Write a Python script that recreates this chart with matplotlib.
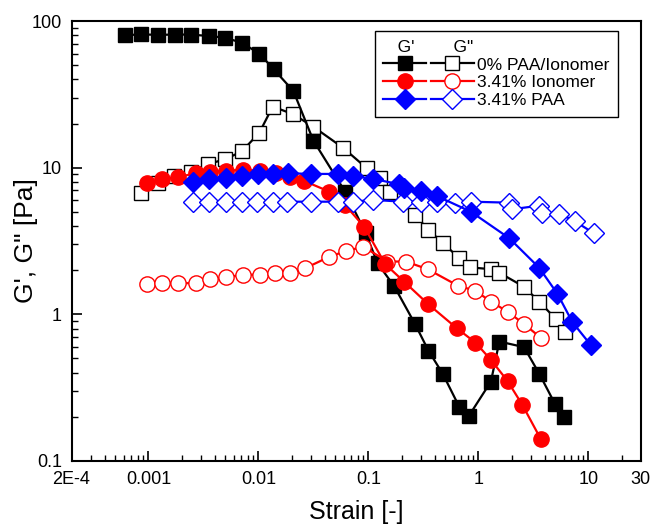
import matplotlib
matplotlib.use("Agg")
import matplotlib.pyplot as plt
from matplotlib.legend_handler import HandlerTuple
from matplotlib.ticker import LogLocator, FixedLocator, FixedFormatter, NullFormatter

plt.rcParams['font.family'] = ['Liberation Sans', 'DejaVu Sans']

# 0% PAA/Ionomer
x_g1_0 = [6.1e-4, 8.6e-4, 1.23e-3, 1.75e-3, 2.44e-3, 3.53e-3, 4.98e-3, 7.06e-3, 0.0102, 0.0138,
          0.0208, 0.0316, 0.0614, 0.0947, 0.121, 0.172, 0.266, 0.351, 0.474, 0.668, 0.823,
          1.30, 1.55, 2.60, 3.59, 4.98, 6.05]
g1_0 = [80, 81, 80.5, 80.8, 80.8, 79, 77, 71, 60, 46.8,
        33.3, 15.3, 6.86, 3.57, 2.23, 1.55, 0.856, 0.566, 0.393, 0.235, 0.204,
        0.348, 0.652, 0.597, 0.391, 0.244, 0.198]
x_g2_0 = [8.59e-4, 1.23e-3, 1.71e-3, 2.44e-3, 3.51e-3, 4.98e-3, 7.06e-3, 0.0102, 0.0135, 0.0208,
          0.0316, 0.0593, 0.0967, 0.128, 0.157, 0.266, 0.351, 0.481, 0.668, 0.841,
          1.30, 1.55, 2.60, 3.56, 5.06, 6.14]
g2_0 = [6.76, 7.83, 8.78, 9.35, 10.6, 11.4, 12.9, 17.3, 26.1, 23.1,
        19.0, 13.6, 9.9, 8.47, 6.86, 4.76, 3.76, 3.05, 2.41, 2.09,
        2.03, 1.92, 1.54, 1.22, 0.93, 0.755]

# 3.41% Ionomer
x_g1_ion = [9.7e-4, 1.34e-3, 1.85e-3, 2.70e-3, 3.64e-3, 5.08e-3, 7.21e-3, 0.0104, 0.0144, 0.0194,
            0.026, 0.0442, 0.0614, 0.092, 0.142, 0.211, 0.351, 0.637, 0.94, 1.30, 1.84, 2.51, 3.69]
g1_ion = [7.83, 8.34, 8.6, 9.17, 9.4, 9.55, 9.65, 9.55, 9.25, 8.69,
          8.12, 6.86, 5.57, 3.93, 2.2, 1.67, 1.17, 0.803, 0.641, 0.489, 0.351, 0.241, 0.141]
x_g2_ion = [9.7e-4, 1.34e-3, 1.85e-3, 2.70e-3, 3.64e-3, 5.08e-3, 7.21e-3, 0.0104, 0.0142, 0.0194,
            0.0266, 0.0442, 0.0626, 0.090, 0.149, 0.219, 0.346, 0.659, 0.935, 1.30, 1.85, 2.61, 3.67]
g2_ion = [1.61, 1.64, 1.63, 1.63, 1.73, 1.79, 1.86, 1.86, 1.91, 1.92,
          2.06, 2.47, 2.70, 2.89, 2.29, 2.29, 2.03, 1.56, 1.45, 1.22, 1.04, 0.856, 0.694]

# 3.41% PAA
x_g1_paa = [2.56e-3, 3.59e-3, 5.08e-3, 7.06e-3, 0.01, 0.0137, 0.0187, 0.0302, 0.0527, 0.073,
            0.110, 0.191, 0.212, 0.299, 0.418, 0.853, 1.91, 3.56, 5.23, 7.16, 10.5]
g1_paa = [8.04, 8.34, 8.47, 8.78, 9.06, 9.06, 9.16, 9.06, 9.06, 8.78,
          8.38, 7.71, 7.31, 6.97, 6.41, 5.01, 3.30, 2.08, 1.38, 0.883, 0.618]
x_g2_paa = [2.56e-3, 3.59e-3, 5.08e-3, 7.06e-3, 0.0098, 0.0137, 0.0183, 0.0302, 0.0527, 0.073,
            0.110, 0.205, 0.299, 0.418, 0.61, 0.853, 1.91, 2.01, 3.53, 3.79, 5.45, 7.53, 11.2]
g2_paa = [5.86, 5.86, 5.86, 5.86, 5.86, 5.86, 5.86, 5.86, 5.86, 5.86,
          6.03, 5.86, 5.86, 5.86, 5.71, 5.86, 5.77, 5.2, 5.5, 4.93, 4.86, 4.31, 3.57]

labels = ["0% PAA/Ionomer", "3.41% Ionomer", "3.41% PAA"]
xtick_vals = [2e-4, 1e-3, 1e-2, 1e-1, 1, 10, 30]
xtick_labels = ["2E-4", "0.001", "0.01", "0.1", "1", "10", "30"]

fig = plt.figure(figsize=(6.5, 5.25), dpi=100)
ax = fig.add_axes([0.110, 0.122, 0.876, 0.838])

series = [
    (x_g1_0, g1_0, x_g2_0, g2_0, "black", "s", 10),
    (x_g1_ion, g1_ion, x_g2_ion, g2_ion, "#ff0000", "o", 11),
    (x_g1_paa, g1_paa, x_g2_paa, g2_paa, "#0000ff", "D", 10),
]
handles = []
for x1, y1, x2, y2, c, m, ms in series:
    h2, = ax.plot(x2, y2, color=c, marker=m, ms=ms, mfc="white", mec=c, mew=1.0, lw=1.6)
    h1, = ax.plot(x1, y1, color=c, marker=m, ms=ms, mfc=c, mec=c, lw=1.6)
    handles.append((h1, h2))

ax.set_xscale("log")
ax.set_yscale("log")
ax.set_xlim(2e-4, 30)
ax.set_ylim(0.1, 100)
ax.xaxis.set_major_locator(FixedLocator(xtick_vals))
ax.xaxis.set_major_formatter(FixedFormatter(xtick_labels))
ax.xaxis.set_minor_locator(LogLocator(base=10, subs=range(2, 10)))
ax.xaxis.set_minor_formatter(NullFormatter())
ax.yaxis.set_minor_locator(LogLocator(base=10, subs=range(2, 10)))
ax.yaxis.set_minor_formatter(NullFormatter())
ax.set_yticks([0.1, 1, 10, 100])
ax.set_yticklabels(["0.1", "1", "10", "100"])
ax.tick_params(which="both", direction="in", labelsize=13)
ax.tick_params(which="major", length=7, width=1.2)
ax.tick_params(axis="x", which="both", pad=7)
ax.tick_params(axis="y", which="both", pad=7)
ax.tick_params(which="minor", length=4, width=1.0)
for s in ax.spines.values():
    s.set_linewidth(1.5)

ax.set_xlabel("Strain [-]", fontsize=18, labelpad=9)
ax.set_ylabel("G', G\" [Pa]", fontsize=19, labelpad=-5)

leg = ax.legend(handles, labels, handler_map={tuple: HandlerTuple(ndivide=None, pad=0.3)},
                loc="upper right", bbox_to_anchor=(0.960, 0.977), borderaxespad=0,
                fontsize=12.5, handlelength=5.2, handletextpad=0.2, labelspacing=0.15,
                borderpad=0.5, title="   G'        G\"", alignment="left", title_fontsize=12.5,
                fancybox=False, edgecolor="black", framealpha=1)
leg.get_frame().set_linewidth(1.0)

fig.savefig("out.png", dpi=100)
